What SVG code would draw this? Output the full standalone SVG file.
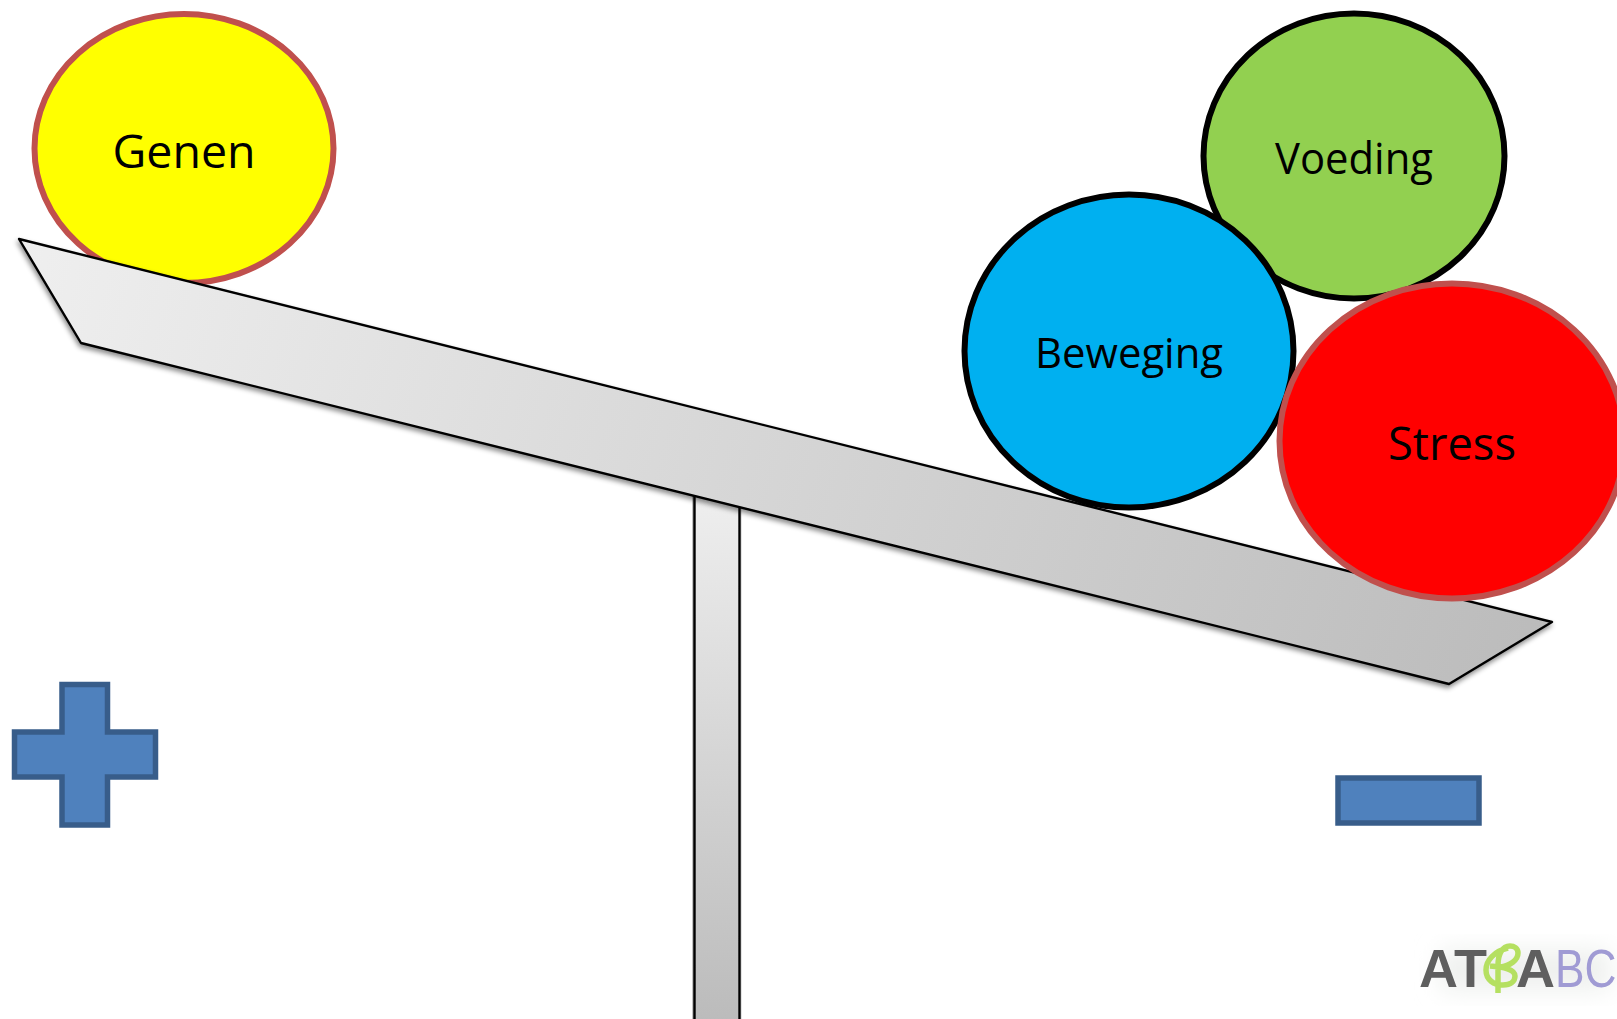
<svg xmlns="http://www.w3.org/2000/svg" width="1617" height="1019" viewBox="0 0 1617 1019">
<style>
.t{font-family:"Open Sans","Noto Sans","Liberation Sans",sans-serif;fill:#000;text-anchor:middle}
.e{stroke-width:6}
.red{stroke:#c0504d}
.blk{stroke:#000}
.bar{stroke:#000;stroke-width:2.400;stroke-linejoin:round;filter:url(#sh)}
.blue{fill:#4f81bd;stroke:#385d8a;stroke-width:5.500}
.lg{font-family:"Liberation Sans",Arial,sans-serif;font-size:54px}
</style>
<defs>
<linearGradient id="g1" gradientUnits="userSpaceOnUse" x1="19" y1="239" x2="1552" y2="660"><stop offset="0" stop-color="#efefef"/><stop offset="1" stop-color="#bbb"/></linearGradient>
<linearGradient id="g2" x1="0" y1="0" x2="0" y2="1"><stop offset="0" stop-color="#efefef"/><stop offset="1" stop-color="#bbb"/></linearGradient>
<filter id="sh" x="-5%" y="-5%" width="110%" height="110%"><feDropShadow dx="-1" dy="3" stdDeviation="2.500" flood-color="#000" flood-opacity=".45"/></filter>
<filter id="lb" x="-20%" y="-40%" width="140%" height="180%"><feGaussianBlur stdDeviation="12"/></filter>
</defs>
<g id="post"><rect class="bar" x="694.500" y="490" width="45" height="535" fill="url(#g2)"/></g>
<g id="genen"><ellipse class="e red" cx="184" cy="148.500" rx="149.500" ry="134.500" fill="#ff0"/><text class="t" x="184" y="167.500" font-size="46" textLength="143" lengthAdjust="spacingAndGlyphs">Genen</text></g>
<g id="voeding"><ellipse class="e blk" cx="1354" cy="156" rx="150.500" ry="142.500" fill="#92d050"/><text class="t" x="1354" y="173.500" font-size="43" textLength="158" lengthAdjust="spacingAndGlyphs">Voeding</text></g>
<g id="plank"><polygon class="bar" points="19,239 81,343 1449,684 1552,622" fill="url(#g1)"/></g>
<g id="beweging"><ellipse class="e blk" cx="1129" cy="351" rx="164.500" ry="156.500" fill="#00b0f0"/><text class="t" x="1129" y="368" font-size="42" textLength="188" lengthAdjust="spacingAndGlyphs">Beweging</text></g>
<g id="stress"><ellipse class="e red" cx="1452" cy="441" rx="172.500" ry="157.500" fill="#f00"/><text class="t" x="1452" y="460" font-size="45" textLength="128" lengthAdjust="spacingAndGlyphs">Stress</text></g>
<g id="plus"><polygon class="blue" points="62,684.500 107.500,684.500 107.500,732 155.500,732 155.500,777 107.500,777 107.500,825 62,825 62,777 14.500,777 14.500,732 62,732"/></g>
<g id="minus"><rect class="blue" x="1338" y="778" width="141" height="45"/></g>
<g id="logo">
<rect x="1440" y="950" width="170" height="40" fill="#eef0ee" filter="url(#lb)"/>
<text class="lg" x="1419" y="987" font-weight="700" fill="#5f5f5f">AT</text>
<text class="lg" x="1516" y="987" font-weight="700" fill="#5f5f5f">A</text>
<text class="lg" transform="translate(1555 987) scale(.82 1)" x="0" y="0" fill="#a09bd4">BC</text>
<path d="M1508,948C1495,951 1486,960 1486,970C1486,980 1494,985 1503,985C1511,985 1515,981 1515,976C1515,969 1503,967 1490,966M1500,967C1510,966 1518,960 1518,953C1518,948 1514,946 1510,946C1502,946 1498,955 1498,965V993" fill="none" stroke="#b5e061" stroke-width="5.500"/>
</g>
</svg>
